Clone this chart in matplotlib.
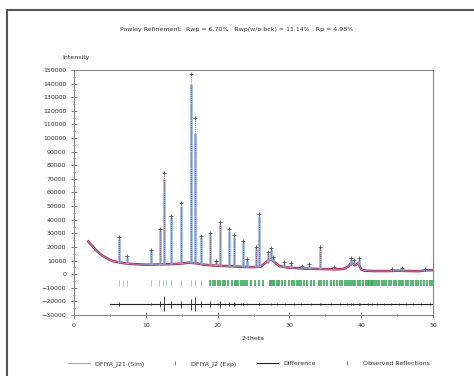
import matplotlib
matplotlib.use("Agg")
import matplotlib.pyplot as plt
from matplotlib.lines import Line2D
from matplotlib.patches import Rectangle
from matplotlib.ticker import MultipleLocator

# background (observed = calculated away from the peaks)
bg_x = [2.0, 2.5, 3.0, 3.5, 4.0, 4.5, 5.0, 5.5, 6.0, 7.0, 8.0, 9.0, 10.0, 11.0, 12.0, 13.0,
        14.0, 15.0, 16.0, 17.0, 18.0, 19.0, 20.0, 21.0, 22.0, 23.0, 24.0, 25.0, 26.0, 26.8,
        27.4, 28.0, 28.6, 29.5, 30.5, 31.5, 32.5, 33.5, 35.0, 36.5, 37.5, 38.2, 38.6, 39.1,
        39.6, 40.0, 40.5, 42.0, 44.0, 45.0, 46.0, 48.0, 49.0, 50.0]
bg_y = [24000, 21000, 18000, 15500, 13500, 12000, 10500, 9500, 9000, 8000, 7500, 7200, 7000,
        7000, 7200, 7300, 7500, 7800, 8500, 8000, 7000, 6500, 6200, 6000, 5800, 5500, 5300,
        5200, 5500, 9000, 11000, 8500, 6000, 5000, 4600, 4300, 4000, 3900, 3700, 3600, 3800,
        5500, 8500, 6500, 8000, 3500, 2500, 2300, 2300, 2600, 2400, 2200, 2800, 3000]

# peaks: position, base, calculated top, observed top
pk_x = [6.27, 7.4, 10.7, 11.95, 12.55, 13.57, 14.87, 16.26, 16.87, 17.66, 19.0, 19.8,
        20.4, 21.65, 22.35, 23.47, 24.1, 25.37, 25.74, 27.0, 27.37, 27.7, 29.2, 30.25,
        31.8, 32.76, 34.25, 36.15, 38.57, 39.0, 39.64, 44.3, 45.7, 48.9]
pk_base = [8500, 7800, 7000, 7100, 7200, 7300, 7600, 8300, 8400, 7500, 6500, 6300,
           6200, 5900, 5800, 5400, 5300, 5200, 5200, 8500, 10500, 9500, 5200, 4600,
           4300, 4000, 3900, 3600, 6500, 8000, 7000, 2300, 2500, 2300]
pk_calc = [26000, 12500, 17500, 32000, 70000, 42000, 50000, 140000, 104000, 27000, 29000,
           9500, 37000, 32000, 27000, 23000, 10500, 19500, 43000, 15500, 18500, 12000, 8500,
           7800, 6000, 7000, 19500, 5000, 11500, 10000, 11500, 3500, 4500, 3500]
pk_obs = [27000, 13000, 18000, 33000, 74000, 43000, 52000, 147000, 115000, 28000, 30000,
          10000, 38500, 33500, 28500, 24000, 11000, 20000, 44500, 16000, 19000, 12500, 9000,
          8000, 6200, 7200, 20000, 5200, 12000, 10500, 12000, 3600, 4700, 3600]

# difference curve (baseline and spikes at the peaks)
diff_level = -22000
diff_x = [5.0, 50.0]
dspk_x = [6.27, 10.7, 11.95, 12.55, 13.57, 14.87, 16.26, 16.87, 17.66, 19.0, 20.4, 21.65,
          22.35, 23.47, 25.74, 34.25, 38.57, 39.64]
dspk_lo = [-23500, -23000, -24000, -27000, -24500, -25000, -26500, -27000, -24000, -24000,
           -24500, -23500, -23500, -23000, -23000, -23000, -23000, -23000]
dspk_hi = [-20500, -21000, -20000, -16000, -19500, -19500, -18500, -16500, -20000, -20000,
           -19500, -20500, -20500, -21000, -21000, -21000, -21000, -21000]

# reflection positions
refl_sparse = [6.27, 6.78, 7.4, 10.7, 11.9, 12.45, 12.78, 13.57, 14.87, 16.26, 16.87, 17.66]
refl_dense = [19.0, 19.3, 19.6, 20.0, 20.3, 20.7, 21.0, 21.4, 22.0, 22.4, 22.6, 22.9, 23.3,
              23.5, 23.8, 24.1, 24.6, 25.2, 25.7, 26.3, 27.3, 27.5, 27.7, 27.9, 28.3, 28.6,
              29.0, 29.4, 29.9, 30.4, 30.7, 31.0, 31.3, 31.6, 32.0, 32.5, 33.0, 33.4, 34.1,
              34.4, 34.8, 35.3, 35.8, 36.2, 36.6, 37.0, 37.3, 37.7, 38.0, 38.3, 38.6, 38.9,
              39.2, 39.5, 39.8, 40.2, 40.6, 40.9, 41.1, 41.3, 41.5, 41.7, 41.9, 42.2, 42.5,
              42.9, 43.2, 43.5, 43.9, 44.2, 44.5, 44.9, 45.2, 45.5, 45.8, 46.2, 46.5, 46.9,
              47.2, 47.6, 47.9, 48.3, 48.8, 49.2, 49.6, 49.9]

title = "Pawley Refinement:  Rwp = 6.70%   Rwp(w/o bck) = 11.14%   Rp = 4.98%"
labels = ["DFIYA_J21 (Sim)", "DFIYA_J2 (Exp)", "Difference", "Observed Reflections"]

c_sim = "#8fb0dc"
c_obs = "#b8264e"
c_ref = "#3aa85a"
c_txt = "#333333"

fig = plt.figure(figsize=(4.74, 3.76), dpi=100)
ax = fig.add_axes([74/474, 1-315/376, (433-74)/474, (315-70)/376])

# observed
ax.plot(bg_x, bg_y, color=c_obs, lw=1.8, zorder=2)
ax.vlines(pk_x, pk_base, pk_obs, color="#7a4a5a", lw=0.6, linestyles=(0, (1, 1.5)), zorder=3)
ax.plot(pk_x, pk_obs, "+", color="#555555", ms=2.5, mew=0.6, zorder=4)
# calculated
ax.plot(bg_x, bg_y, color=c_sim, lw=0.5, zorder=3)
ax.vlines(pk_x, pk_base, pk_calc, color=c_sim, lw=1.8, zorder=2.5)

# difference
ax.plot(diff_x, [diff_level, diff_level], color="#222222", lw=0.8, zorder=3)
ax.vlines(dspk_x, dspk_lo, dspk_hi, color="#222222", lw=0.6, zorder=3)
ax.vlines(refl_dense[::3], diff_level - 800, diff_level + 800, color="#222222", lw=0.5)

# reflections
ax.vlines(refl_sparse, -9000, -4500, color="#9ccfa8", lw=0.7)
ax.vlines(refl_dense, -9000, -4500, color=c_ref, lw=1.2)

ax.set_xlim(0, 50)
ax.set_ylim(-30000, 150000)
ax.xaxis.set_major_locator(MultipleLocator(10))
ax.xaxis.set_minor_locator(MultipleLocator(5))
ax.yaxis.set_major_locator(MultipleLocator(10000))
ax.yaxis.set_minor_locator(MultipleLocator(5000))
ax.tick_params(which="both", direction="inout", colors="#666666", labelcolor=c_txt,
               labelsize=4.5, width=0.6)
ax.tick_params(which="major", length=4)
ax.tick_params(which="minor", length=2)
for s in ax.spines.values():
    s.set_color("#888888")
    s.set_linewidth(0.8)

ax.set_xlabel("2-theta", fontsize=4.5, color=c_txt, labelpad=6)
fig.text(62/474, 1-58/376, "Intensity", fontsize=4.5, color=c_txt, va="center")
fig.text(0.5, 1-29/376, title, fontsize=4.5, color=c_txt, ha="center", va="center")

handles = [Line2D([], [], color=c_sim, lw=0.8),
           Line2D([], [], marker="|", ls="none", color="#777777", ms=3, mew=0.6),
           Line2D([], [], color="#222222", lw=0.8),
           Line2D([], [], marker="|", ls="none", color=c_ref, ms=3, mew=0.8)]
fig.legend(handles, labels, loc="center", bbox_to_anchor=(0.525, 1-364/376), ncol=4,
           frameon=False, fontsize=4.5, handlelength=3.5, columnspacing=3.2,
           labelcolor=c_txt)

fig.add_artist(Rectangle((7/474, -0.1), 1.2, 1.1-10/376, transform=fig.transFigure,
                         fill=False, ec="#555555", lw=1.5))

fig.savefig("out.png", dpi=100)
